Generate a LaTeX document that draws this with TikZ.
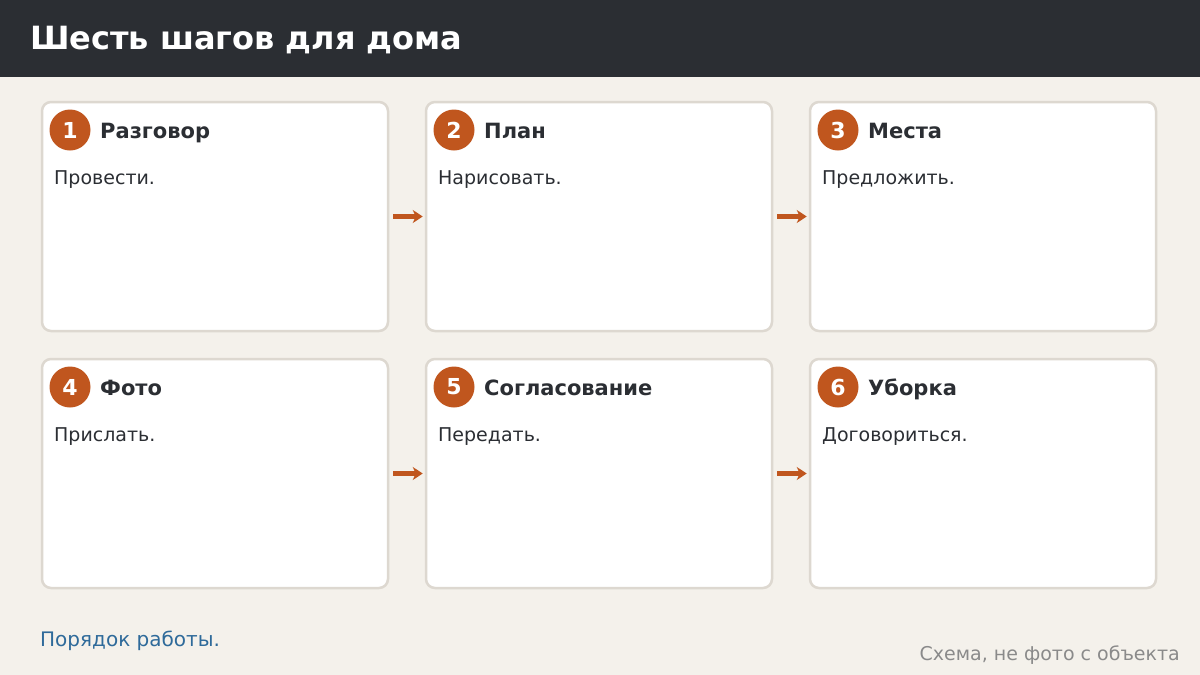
\documentclass[tikz,border=0pt]{standalone}
\usepackage{fontspec}
\setmainfont{DejaVu Sans}
\usetikzlibrary{arrows.meta}
\definecolor{pagebg}{HTML}{F4F1EB}
\definecolor{headbg}{HTML}{2B2E33}
\definecolor{cardline}{HTML}{DDD8D0}
\definecolor{steporange}{HTML}{C0561E}
\definecolor{inktext}{HTML}{2B2E33}
\definecolor{linkblue}{HTML}{2E6A9A}
\definecolor{notegray}{HTML}{8A8A8A}

\tikzset{
  card/.style={draw=cardline,line width=2.5pt,fill=white,rounded corners=9pt,
    minimum width=346pt,minimum height=229pt,inner sep=0pt},
  badge/.style={circle,fill=steporange,minimum size=41pt,inner sep=0pt,
    text=white,font=\bfseries\fontsize{22}{22}\selectfont},
  steptitle/.style={anchor=base west,inner sep=0pt,text=inktext,
    font=\bfseries\fontsize{21}{21}\selectfont},
  stepbody/.style={anchor=base west,inner sep=0pt,text=inktext,
    font=\fontsize{19}{19}\selectfont},
  flow/.style={-{Stealth[length=10pt,width=13pt,inset=3pt]},draw=steporange,line width=4.5pt,
    shorten <=4pt,shorten >=2pt}
}

\begin{document}
\begin{tikzpicture}[x=1pt,y=-1pt]
  % page
  \useasboundingbox (0,0) rectangle (1200,675);
  \fill[pagebg] (0,0) rectangle (1200,675);
  % header
  \fill[headbg] (0,0) rectangle (1200,77);
  \node[anchor=base west,inner sep=0pt,text=white,font=\bfseries\fontsize{32}{32}\selectfont]
    (title) at (30,49) {Шесть шагов для дома};
  % row 1
  \node[card] (c1) at (215,216.5) {};
  \node[badge] (n1) at (70,130) {1};
  \node[steptitle] (t1) at (100,138) {Разговор};
  \node[stepbody] (b1) at (54,184) {Провести.};
  \node[card] (c2) at (599,216.5) {};
  \node[badge] (n2) at (454,130) {2};
  \node[steptitle] (t2) at (484,138) {План};
  \node[stepbody] (b2) at (438,184) {Нарисовать.};
  \node[card] (c3) at (983,216.5) {};
  \node[badge] (n3) at (838,130) {3};
  \node[steptitle] (t3) at (868,138) {Места};
  \node[stepbody] (b3) at (822,184) {Предложить.};
  % row 2
  \node[card] (c4) at (215,473.5) {};
  \node[badge] (n4) at (70,387) {4};
  \node[steptitle] (t4) at (100,395) {Фото};
  \node[stepbody] (b4) at (54,441) {Прислать.};
  \node[card] (c5) at (599,473.5) {};
  \node[badge] (n5) at (454,387) {5};
  \node[steptitle] (t5) at (484,395) {Согласование};
  \node[stepbody] (b5) at (438,441) {Передать.};
  \node[card] (c6) at (983,473.5) {};
  \node[badge] (n6) at (838,387) {6};
  \node[steptitle] (t6) at (868,395) {Уборка};
  \node[stepbody] (b6) at (822,441) {Договориться.};
  % arrows
  \draw[flow] (c1.east) -- (c2.west);
  \draw[flow] (c2.east) -- (c3.west);
  \draw[flow] (c4.east) -- (c5.west);
  \draw[flow] (c5.east) -- (c6.west);
  % footer
  \node[anchor=base west,inner sep=0pt,text=linkblue,font=\fontsize{20}{20}\selectfont]
    (foot) at (40,646) {Порядок работы.};
  \node[anchor=base east,inner sep=0pt,text=notegray,font=\fontsize{19}{19}\selectfont]
    (note) at (1180,660) {Схема, не фото с объекта};
\end{tikzpicture}
\end{document}
